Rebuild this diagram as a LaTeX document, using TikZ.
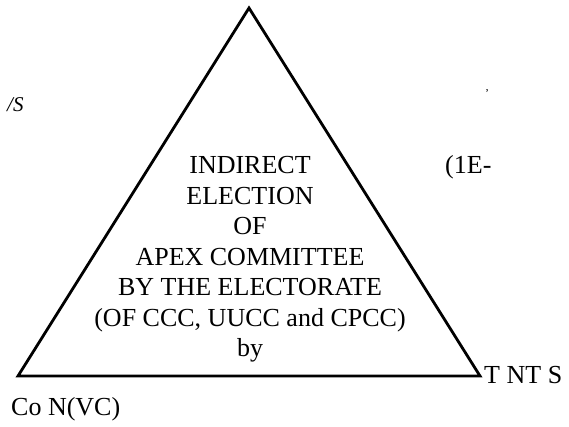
\documentclass[tikz,border=0pt]{standalone}
\usepackage{fontspec}
\setmainfont{Liberation Serif}
\begin{document}
\begin{tikzpicture}[x=1pt,y=-1pt,
  txt/.style={inner sep=0pt,font=\fontsize{26}{30.5}\selectfont},
  tri/.style={line width=2.8pt,line join=miter}]
\useasboundingbox (0,0) rectangle (569,427);
\coordinate (A) at (249,8);
\coordinate (B) at (18,376);
\coordinate (C) at (480,376);
\draw[tri] (A) -- (B) -- (C) -- cycle;
\node[txt,align=center,anchor=north] (main) at (250,156.5) {INDIRECT\\ELECTION\\OF\\APEX COMMITTEE\\BY THE ELECTORATE\\(OF CCC, UUCC and CPCC)\\by};
\node[txt,anchor=base west] (bl) at (11,415) {Co N(VC)};
\node[txt,anchor=base west] (br) at (484,383) {T NT S};
\node[txt,anchor=base west] (re) at (445,173.5) {(1E-};
\node[txt,anchor=base west,font=\fontsize{21}{21}\selectfont\itshape] (ys) at (7,112) {/S};
\node[txt,anchor=base west,font=\fontsize{12}{12}\selectfont] (mk) at (485,98) {'};
\end{tikzpicture}
\end{document}
